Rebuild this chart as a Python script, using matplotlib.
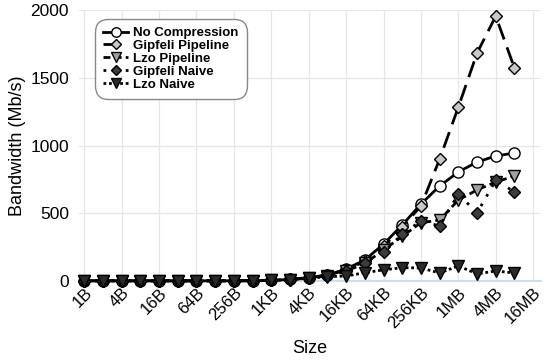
import numpy as np
import matplotlib
matplotlib.use("Agg")
import matplotlib.pyplot as plt

# transfer sizes 1B .. 8MB (powers of two), ticks every 4x
sizes = ["1B", "2B", "4B", "8B", "16B", "32B", "64B", "128B", "256B", "512B",
         "1KB", "2KB", "4KB", "8KB", "16KB", "32KB", "64KB", "128KB", "256KB",
         "512KB", "1MB", "2MB", "4MB", "8MB"]
tick_labels = ["1B", "4B", "16B", "64B", "256B", "1KB", "4KB", "16KB",
               "64KB", "256KB", "1MB", "4MB", "16MB"]

no_compression = [1, 1, 1, 1, 1, 1, 1, 1, 1, 2, 4, 12, 25, 45, 88, 155, 272,
                  413, 568, 701, 805, 878, 923, 945]
gipfeli_pipeline = [1, 1, 1, 1, 1, 1, 1, 1, 1, 2, 4, 11, 23, 42, 80, 145, 255,
                    400, 553, 900, 1284, 1683, 1956, 1572]
lzo_pipeline = [1, 1, 1, 1, 1, 1, 1, 1, 1, 2, 4, 10, 22, 40, 72, 130, 228,
                330, 430, 450, 598, 672, 731, 775]
gipfeli_naive = [1, 1, 1, 1, 1, 1, 1, 1, 1, 2, 4, 10, 21, 40, 70, 135, 212,
                 347, 443, 406, 642, 502, 745, 657]
lzo_naive = [1, 1, 1, 1, 1, 1, 1, 1, 1, 2, 4, 10, 20, 32, 36, 61, 82,
             98, 96, 59, 111, 52, 74, 59]

series = [
    ("No Compression", no_compression, "o", "white", "-"),
    ("Gipfeli Pipeline", gipfeli_pipeline, "D", "#c8c8c8", (0, (6, 3))),
    ("Lzo Pipeline", lzo_pipeline, "v", "#a0a0a0", (0, (2.5, 1.5))),
    ("Gipfeli Naive", gipfeli_naive, "D", "#3c3c3c", (0, (1, 3))),
    ("Lzo Naive", lzo_naive, "v", "#2a2a2a", (0, (1, 1))),
]

plt.rcParams['font.family'] = ['Liberation Sans', 'DejaVu Sans']

fig = plt.figure(figsize=(5.5, 3.63), dpi=100)
ax = fig.add_axes([0.143, 0.226, 0.84, 0.746])

x = np.arange(len(sizes))
for name, vals, mk, fc, ls in series:
    ms = 8 if mk != "D" else 6
    ax.plot(x, vals, linestyle=ls, color="black", linewidth=2,
            marker=mk, markersize=ms, markerfacecolor=fc,
            markeredgecolor="black", markeredgewidth=1.0,
            label=name, clip_on=False, zorder=3)

ax.set_xlim(-0.3, 24.4)
ax.set_ylim(0, 2000)
ax.set_xticks(np.arange(0, 25, 2))
ax.set_xticklabels(tick_labels, rotation=45, ha="right", rotation_mode="anchor",
                   fontsize=12)
ax.set_yticks([0, 500, 1000, 1500, 2000])
ax.tick_params(axis="y", labelsize=12.5, length=0, pad=7)
ax.tick_params(axis="x", length=0, pad=3)
ax.grid(True, color="#e6e6e6", linewidth=0.9)
ax.set_axisbelow(True)
for s in ["top", "right", "left"]:
    ax.spines[s].set_visible(False)
ax.spines["bottom"].set_color("#c6d7ea")
ax.spines["bottom"].set_linewidth(1.2)

ax.set_xlabel("Size", fontsize=13, labelpad=6)
ax.set_ylabel("Bandwidth (Mb/s)", fontsize=13, labelpad=3)

leg = ax.legend(loc="upper left", bbox_to_anchor=(0.04, 0.96),
                prop={"weight": "bold", "size": 9.5}, handlelength=1.9,
                handletextpad=0.4, labelspacing=0.05, borderpad=0.25,
                borderaxespad=0.2, markerscale=0.85,
                fancybox=True, framealpha=1, edgecolor="#888888")
leg.get_frame().set_linewidth(1.0)
leg.get_frame().set_boxstyle("round,pad=0.35,rounding_size=1.0")

fig.savefig("out.png", dpi=100)
